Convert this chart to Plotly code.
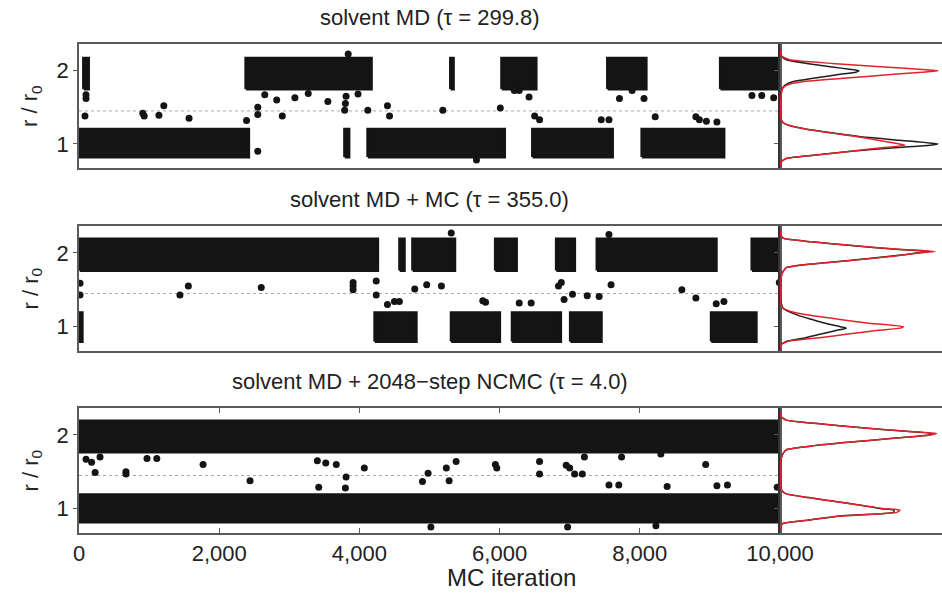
import plotly.graph_objects as go

W, H = 942, 593
ITER_RANGE = [0, 10000]
R_RANGE = [0.67, 2.365]
THRESHOLD = 1.45

titles = ["solvent MD (\u03c4 = 299.8)",
          "solvent MD + MC (\u03c4 = 355.0)",
          "solvent MD + 2048\u2212step NCMC (\u03c4 = 4.0)"]
x_ticks = [0, 2000, 4000, 6000, 8000, 10000]
x_tick_labels = ["0", "2,000", "4,000", "6,000", "8,000", "10,000"]
y_ticks = [1, 2]
x_title = "MC iteration"
y_title = "r / r<sub>0</sub>"

# --- residence segments (start iteration, end iteration, state: 0 -> r~1, 1 -> r~2)
p1_start = [0, 65, 2380, 3790, 4120, 5300, 6030, 6470, 7540, 8030, 9150]
p1_end = [2420, 135, 4170, 3850, 6070, 5340, 6520, 7610, 8090, 9200, 10000]
p1_state = [0, 1, 1, 0, 0, 1, 1, 0, 1, 0, 1]
p1_band_lo = [0.82, 1.75]
p1_band_hi = [1.2, 2.17]

p2_start = [0, 10, 4220, 4575, 4760, 5310, 5940, 6180, 6810, 7010, 7390, 9020, 9600]
p2_end = [45, 4260, 4810, 4640, 5360, 6000, 6240, 6870, 7070, 7450, 9090, 9660, 10000]
p2_state = [0, 1, 0, 1, 1, 0, 1, 0, 1, 0, 1, 0, 1]
p2_band_lo = [0.8, 1.76]
p2_band_hi = [1.19, 2.19]

p3_start = [0, 0]
p3_end = [10000, 10000]
p3_state = [0, 1]
p3_band_lo = [0.82, 1.77]
p3_band_hi = [1.19, 2.19]

# --- isolated samples outside the dense bands
p1_out_x = [85, 100, 100, 910, 930, 1140, 1210, 1570, 2390, 2550, 2550, 2550, 2650, 2820, 2900,
            3080, 3270, 3550, 3790, 3800, 3810, 3840, 3980, 4120, 4400, 4430, 5190, 5670,
            6010, 6210, 6280, 6420, 6500, 6570, 7450, 7560, 7710, 7890, 8060, 8220, 8800,
            8850, 8950, 9100, 9600, 9740, 9910]
p1_out_y = [1.38, 1.62, 1.67, 1.42, 1.38, 1.39, 1.52, 1.35, 1.32, 0.9, 1.5, 1.4, 1.67, 1.6, 1.38,
            1.63, 1.69, 1.58, 1.46, 1.55, 1.65, 2.23, 1.68, 1.46, 1.52, 1.38, 1.46, 0.78,
            1.49, 1.73, 1.73, 1.64, 1.38, 1.33, 1.33, 1.33, 1.62, 1.73, 1.62, 1.37, 1.37,
            1.33, 1.31, 1.30, 1.66, 1.66, 1.63]

p2_out_x = [15, 15, 1440, 1560, 2600, 3910, 3910, 3910, 4240, 4240, 4400, 4500, 4570, 4790,
            4960, 5170, 5310, 5760, 5800, 6280, 6450, 6840, 6880, 6920, 7040, 7250, 7420,
            7560, 7590, 8600, 8800, 9090, 9200, 9990]
p2_out_y = [1.59, 1.43, 1.43, 1.55, 1.53, 1.5, 1.55, 1.6, 1.43, 1.62, 1.30, 1.34, 1.34, 1.51,
            1.57, 1.55, 2.27, 1.35, 1.33, 1.32, 1.32, 1.55, 1.6, 1.37, 1.44, 1.42, 1.41,
            2.25, 1.57, 1.5, 1.39, 1.31, 1.34, 1.6]

p3_out_x = [100, 180, 230, 300, 670, 670, 970, 1110, 1770, 2440, 3400, 3520, 3670, 3810,
            4070, 4900, 4980, 5020, 5240, 5280, 5380, 3420, 3800, 5940, 5960, 6570, 6570,
            6950, 7000, 7070, 7180, 7210, 7560, 7700, 7740, 8300, 8390, 8940, 9100, 9250,
            9960, 6970, 8230]
p3_out_y = [1.67, 1.63, 1.49, 1.7, 1.5, 1.47, 1.68, 1.68, 1.6, 1.38, 1.65, 1.62, 1.6, 1.43,
            1.55, 1.37, 1.48, 0.75, 1.55, 1.38, 1.64, 1.29, 1.28, 1.6, 1.55, 1.64, 1.47,
            1.59, 1.55, 1.47, 1.47, 1.7, 1.32, 1.32, 1.7, 1.74, 1.3, 1.6, 1.31, 1.32,
            1.29, 0.75, 0.77]

# --- marginal densities (black: observed, red: reference), relative units
r_grid = [0.70, 0.75, 0.80, 0.85, 0.90, 0.95, 0.98, 1.00, 1.05, 1.10, 1.15, 1.20, 1.25, 1.30,
          1.35, 1.40, 1.50, 1.60, 1.65, 1.70, 1.75, 1.80, 1.85, 1.90, 1.95, 1.98, 2.00, 2.02,
          2.05, 2.10, 2.15, 2.20, 2.25, 2.30]
p1_black = [0.0, 0.005, 0.04, 0.24, 0.45, 0.75, 0.95, 1.0, 0.75, 0.5, 0.33, 0.17, 0.06, 0.015,
            0.006, 0.003, 0.002, 0.003, 0.005, 0.008, 0.013, 0.03, 0.08, 0.22, 0.38, 0.48, 0.5,
            0.44, 0.33, 0.17, 0.04, 0.01, 0.002, 0.0]
p1_red = [0.0, 0.005, 0.04, 0.25, 0.45, 0.66, 0.79, 0.75, 0.62, 0.48, 0.32, 0.17, 0.06, 0.015,
          0.006, 0.003, 0.002, 0.003, 0.006, 0.01, 0.015, 0.04, 0.14, 0.42, 0.72, 0.9, 1.0,
          0.88, 0.66, 0.33, 0.06, 0.01, 0.002, 0.0]
p2_black = [0.0, 0.003, 0.04, 0.16, 0.26, 0.36, 0.42, 0.38, 0.28, 0.2, 0.12, 0.06, 0.02, 0.01,
            0.005, 0.003, 0.002, 0.003, 0.006, 0.01, 0.02, 0.04, 0.2, 0.45, 0.68, 0.8, 0.86,
            0.95, 0.73, 0.45, 0.2, 0.02, 0.003, 0.0]
p2_red = [0.0, 0.003, 0.05, 0.25, 0.43, 0.62, 0.76, 0.78, 0.55, 0.37, 0.2, 0.08, 0.02, 0.005,
          0.004, 0.003, 0.002, 0.003, 0.006, 0.01, 0.02, 0.04, 0.2, 0.46, 0.7, 0.8, 0.88,
          0.98, 0.75, 0.46, 0.2, 0.02, 0.003, 0.0]
p3_black = [0.0, 0.003, 0.02, 0.2, 0.38, 0.72, 0.72, 0.64, 0.5, 0.34, 0.18, 0.04, 0.01, 0.004,
            0.003, 0.002, 0.002, 0.003, 0.005, 0.01, 0.02, 0.04, 0.2, 0.43, 0.7, 0.85, 0.94,
            0.96, 0.8, 0.5, 0.25, 0.04, 0.005, 0.0]
p3_red = [0.0, 0.003, 0.02, 0.2, 0.38, 0.74, 0.76, 0.66, 0.5, 0.34, 0.18, 0.04, 0.01, 0.004,
          0.003, 0.002, 0.002, 0.003, 0.005, 0.01, 0.02, 0.04, 0.2, 0.43, 0.7, 0.86, 0.95,
          0.99, 0.8, 0.5, 0.25, 0.04, 0.005, 0.0]

panels = [
    (p1_start, p1_end, p1_state, p1_band_lo, p1_band_hi, p1_out_x, p1_out_y, p1_black, p1_red),
    (p2_start, p2_end, p2_state, p2_band_lo, p2_band_hi, p2_out_x, p2_out_y, p2_black, p2_red),
    (p3_start, p3_end, p3_state, p3_band_lo, p3_band_hi, p3_out_x, p3_out_y, p3_black, p3_red),
]

# layout geometry (pixels)
X_MAIN = (79, 780)
X_SIDE = (780, W)
Y_PANELS = [(44, 168), (226, 351), (408, 533)]
TITLE_Y = [17, 199, 381]

DOT = "#141414"
FRAME = "#5a5a5a"
FONT = "Liberation Sans, Arial, sans-serif"


def px_x(p):
    return p / W


def px_y(p):
    return 1 - p / H


fig = go.Figure()
layout = dict(
    template="none",
    width=W, height=H, autosize=False,
    margin=dict(l=0, r=0, t=0, b=0, pad=0),
    paper_bgcolor="white", plot_bgcolor="white",
    showlegend=False,
    font=dict(family=FONT, size=20, color="#222"),
)
annotations = []

for i, (st, en, sta, lo, hi, ox, oy, dens_b, dens_r) in enumerate(panels):
    nm = 2 * i + 1
    ns = 2 * i + 2
    xm, ym = f"x{nm}", f"y{nm}"
    xs_, ys_ = f"x{ns}", f"y{ns}"
    top, bot = Y_PANELS[i]
    ydom = [px_y(bot), px_y(top)]
    last = i == 2

    layout[f"xaxis{nm}"] = dict(
        domain=[px_x(X_MAIN[0]), px_x(X_MAIN[1])], range=ITER_RANGE, anchor=ym,
        automargin=False,
        showline=True, linecolor=FRAME, linewidth=1.5, mirror=("ticks" if last else True),
        showgrid=False, zeroline=False,
        ticks=("inside" if last else ""), ticklen=5, tickcolor=FRAME,
        tickvals=x_ticks, ticktext=x_tick_labels, showticklabels=last,
        tickfont=dict(size=22, color="#222"),
    )
    layout[f"yaxis{nm}"] = dict(
        domain=ydom, range=R_RANGE, anchor=xm, automargin=False,
        showline=True, linecolor=FRAME, linewidth=1.5, mirror=True,
        showgrid=False, zeroline=False,
        ticks="outside", ticklen=4, tickcolor=FRAME, tickvals=y_ticks,
        tickfont=dict(size=22, color="#222"),
    )
    layout[f"xaxis{ns}"] = dict(
        domain=[px_x(X_SIDE[0]), 1.0], range=[0, 1.025], anchor=ys_, automargin=False,
        showline=True, linecolor=FRAME, linewidth=1.5, mirror=True,
        showgrid=False, zeroline=False, ticks="", showticklabels=False,
    )
    layout[f"yaxis{ns}"] = dict(
        domain=ydom, range=R_RANGE, anchor=xs_, automargin=False,
        showline=True, linecolor="#333", linewidth=1.5,
        showgrid=False, zeroline=False,
        ticks="outside", ticklen=4, tickcolor=FRAME, tickvals=y_ticks, showticklabels=False,
    )

    # threshold line
    fig.add_trace(go.Scatter(
        x=ITER_RANGE, y=[THRESHOLD, THRESHOLD], mode="lines",
        line=dict(color="#a8a8a8", width=1, dash="dot"),
        xaxis=xm, yaxis=ym, hoverinfo="skip"))

    # dense residence bands
    bx, by = [], []
    for s, e, k in zip(st, en, sta):
        bx += [s, e, e, s, s, None]
        by += [lo[k], lo[k], hi[k], hi[k], lo[k], None]
    fig.add_trace(go.Scatter(
        x=bx, y=by, mode="lines", fill="toself", fillcolor=DOT,
        line=dict(color=DOT, width=3), xaxis=xm, yaxis=ym, hoverinfo="skip"))

    # isolated samples
    fig.add_trace(go.Scatter(
        x=ox, y=oy, mode="markers", marker=dict(color=DOT, size=7),
        xaxis=xm, yaxis=ym))

    # marginal densities
    fig.add_trace(go.Scatter(
        x=dens_b, y=r_grid, mode="lines",
        line=dict(color="#1e1e1e", width=1.5, shape="spline", smoothing=0.5),
        xaxis=xs_, yaxis=ys_))
    fig.add_trace(go.Scatter(
        x=dens_r, y=r_grid, mode="lines",
        line=dict(color="#e3232c", width=1.5, shape="spline", smoothing=0.5),
        xaxis=xs_, yaxis=ys_))

    annotations.append(dict(
        text=titles[i], x=px_x((X_MAIN[0] + X_MAIN[1]) / 2), y=px_y(TITLE_Y[i]),
        xref="paper", yref="paper", xanchor="center", yanchor="middle",
        showarrow=False, font=dict(size=22, color="#222")))
    annotations.append(dict(
        text=y_title, x=px_x(31), y=px_y((top + bot) / 2),
        xref="paper", yref="paper", xanchor="center", yanchor="middle",
        textangle=-90, showarrow=False, font=dict(size=22, color="#222")))

annotations.append(dict(
    text=x_title, x=px_x(511), y=px_y(577), xref="paper", yref="paper",
    xanchor="center", yanchor="middle", showarrow=False, font=dict(size=24, color="#222")))

layout["annotations"] = annotations
fig.update_layout(**layout)

post = ("document.body.style.margin='0';document.body.style.padding='0';"
        "document.body.style.overflow='hidden';"
        "document.documentElement.style.overflow='hidden';")
fig.write_html("out.html", config={"displayModeBar": False}, post_script=post)
